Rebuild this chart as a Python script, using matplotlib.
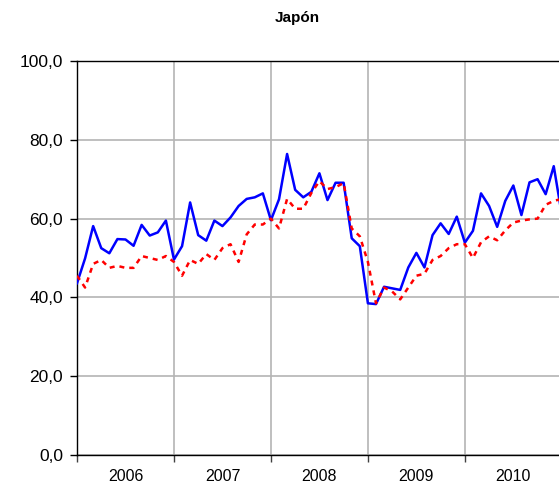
import numpy as np
import matplotlib
matplotlib.use("Agg")
import matplotlib.pyplot as plt

plt.rcParams['font.family'] = ['Liberation Sans', 'DejaVu Sans']

# monthly values, Jan 2006 .. Jan 2011
years = ["2006", "2007", "2008", "2009", "2010"]
blue = [43.6, 49.9, 58.1, 52.5, 51.2, 54.8, 54.7, 53.1, 58.4, 55.7, 56.5, 59.5,
        49.6, 53.0, 64.1, 55.8, 54.4, 59.5, 58.1, 60.3, 63.2, 65.0, 65.4, 66.4,
        59.6, 64.9, 76.4, 67.3, 65.4, 66.8, 71.5, 64.7, 69.1, 69.1, 55.0, 53.0,
        38.5, 38.3, 42.7, 42.3, 41.9, 47.6, 51.3, 47.6, 55.8, 58.8, 56.1, 60.5,
        53.9, 56.9, 66.4, 63.2, 57.9, 64.5, 68.4, 60.9, 69.2, 70.0, 66.2, 73.3,
        61.0]
red = [45.5, 42.5, 48.5, 49.5, 47.5, 48.0, 47.5, 47.5, 50.5, 50.0, 49.5, 50.5,
       49.0, 45.5, 49.5, 48.5, 51.0, 49.5, 52.5, 53.5, 49.0, 56.0, 58.5, 58.5,
       60.0, 57.5, 65.0, 62.5, 62.5, 66.5, 69.5, 67.5, 68.0, 69.0, 57.5, 55.5,
       49.0, 38.5, 42.5, 41.5, 39.5, 42.5, 45.5, 46.0, 49.5, 50.5, 52.5, 53.5,
       53.5, 50.0, 54.0, 55.5, 54.5, 57.0, 59.0, 59.5, 59.8, 60.0, 63.5, 64.5,
       65.0]

x = np.arange(len(blue))

fig = plt.figure(figsize=(5.59, 4.94), dpi=100)
ax = fig.add_axes([77 / 559, 39 / 494, 1 - 77 / 559, 394 / 494])

ax.plot(x, blue, color='#0000ff', lw=1.8, zorder=3)
ax.plot(x, red, color='#ff0000', lw=1.8, ls=(0, (2.0, 2.0)), zorder=4)

ax.set_xlim(0, 59.65)
ax.set_ylim(0, 100)

ax.set_yticks(np.arange(0, 101, 20))
ax.set_yticklabels([f"{v},0" for v in range(0, 101, 20)], fontsize=12.5)
ax.tick_params(axis='y', direction='out', length=5, pad=5, width=1)

ax.set_xticks([0, 12, 24, 36, 48])
ax.set_xticklabels([])
ax.set_xticks([6, 18, 30, 42, 54], minor=True)
ax.set_xticklabels(years, minor=True, fontsize=11.5)
ax.tick_params(axis='x', which='major', direction='out', length=5, width=1, color='#404040')
ax.tick_params(axis='x', which='minor', length=0, pad=10)

ax.grid(True, which='major', color='#b4b4b4', lw=1.2)
ax.set_axisbelow(True)

ax.spines['right'].set_visible(False)
for s in ['left', 'bottom', 'top']:
    ax.spines[s].set_color('black')
    ax.spines[s].set_linewidth(1)

fig.text(297 / 559, 1 - 18 / 494, "Japón", ha='center', va='center',
         fontsize=11, fontweight='bold')

fig.savefig("out.png", dpi=100)
